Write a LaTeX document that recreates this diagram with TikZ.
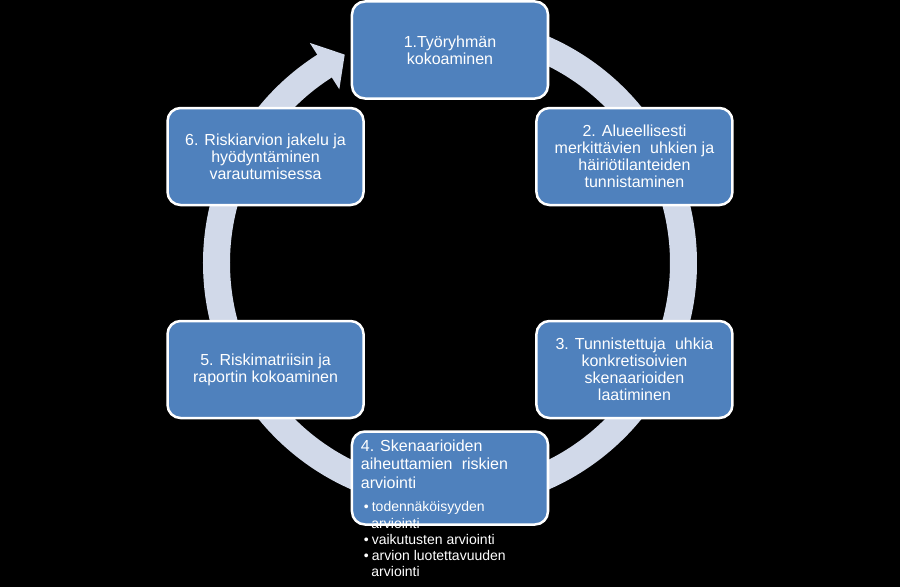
\documentclass[tikz,border=0pt]{standalone}
\usepackage{fontspec}
\setmainfont{Liberation Sans}
\usepackage{xcolor}
\definecolor{stageblue}{HTML}{4F81BD}
\definecolor{ringgray}{HTML}{D1D9E9}

\begin{document}
\begin{tikzpicture}[x=1pt,y=1pt,
  stage/.style={rectangle,rounded corners=13pt,draw=white,line width=2.5pt,fill=stageblue,
    minimum width=196pt,minimum height=97pt,inner sep=0pt,text=white,align=center,
    font=\fontsize{16}{17}\selectfont},
  stagetext/.style={inner sep=0pt,text=white,align=left},
  ringarc/.style={draw=ringgray,line width=27pt}]
  \fill[black] (-450,-324) rectangle (450,263);
  \useasboundingbox (-450,-324) rectangle (450,263);
  % cycle arrow
  \draw[ringarc] (95:233.5) arc[start angle=95,end angle=-238,radius=233.5];
  \fill[ringgray] (122.5:206) -- (116.8:233.5) -- (122.5:261) -- cycle;
  % stages
  \node[stage] (s1) at (90:213) {1.Työryhmän\\kokoaminen};
  \node[stage] (s2) at (30:213) {2. Alueellisesti\\merkittävien\hspace{0.3em} uhkien ja\\häiriötilanteiden\\tunnistaminen};
  \node[stage] (s3) at (-30:213) {3. Tunnistettuja\hspace{0.3em} uhkia\\konkretisoivien\\skenaarioiden\\laatiminen};
  \node[stage,minimum height=93pt] (s4) at (-90:215) {};
  \node[stage] (s5) at (-150:213) {5. Riskimatriisin ja\\raportin kokoaminen};
  \node[stage] (s6) at (150:213) {6. Riskiarvion jakelu ja\\hyödyntäminen\\varautumisessa};
  % text of stage 4 runs over its box
  \node[stagetext,anchor=north west,font=\fontsize{16}{18.5}\selectfont]
    (s4t) at ([shift={(10,-9)}]s4.north west)
    {4. Skenaarioiden\\aiheuttamien\hspace{0.3em} riskien\\arviointi};
  \node[stagetext,anchor=north west,font=\fontsize{14}{16.3}\selectfont]
    (s4b) at ([shift={(3,-13)}]s4t.south west)
    {•\hspace{3pt}todennäköisyyden\\
     \hspace*{7.5pt}arviointi\\
     •\hspace{3pt}vaikutusten arviointi\\
     •\hspace{3pt}arvion luotettavuuden\\
     \hspace*{7.5pt}arviointi};
\end{tikzpicture}
\end{document}
